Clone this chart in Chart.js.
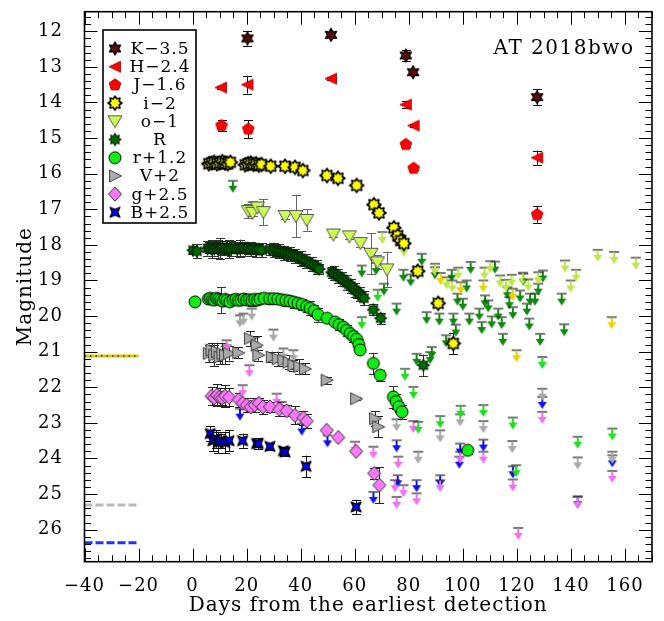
<!DOCTYPE html>
<html><head><meta charset="utf-8">
<script src="https://cdn.jsdelivr.net/npm/chart.js@4/dist/chart.umd.min.js"></script>
<style>html,body{margin:0;padding:0;background:#fff}</style>
</head><body>
<canvas id="c" width="664" height="621"></canvas>
<script>
// ---------------- DATA ----------------
const xTicks = [-40,-20,0,20,40,60,80,100,120,140,160];
const yTicks = [12,13,14,15,16,17,18,19,20,21,22,23,24,25,26];
const bandLabels = ['K\u22123.5','H\u22122.4','J\u22121.6','i\u22122','o\u22121','R','r+1.2','V+2','g+2.5','B+2.5'];

// K-3.5
const K_day = [20.3, 51.2, 78.9, 81.6, 127.5];
const K_mag = [12.2, 12.1, 12.68, 13.15, 13.85];
const K_err = [0.2, 0.05, 0.15, 0.05, 0.22];
// H-2.4
const H_day = [10.5, 20.3, 51.2, 78.9, 81.8, 127.5];
const H_mag = [13.58, 13.5, 13.33, 14.06, 14.65, 15.55];
const H_err = [0.05, 0.25, 0.05, 0.1, 0.05, 0.2];
// J-1.6
const J_day = [10.7, 20.6, 78.9, 81.8, 127.5];
const J_mag = [14.65, 14.75, 15.18, 15.85, 17.15];
const J_err = [0.15, 0.25, 0.08, 0.05, 0.23];
// i-2
const i_day = [6,7,8,9,10,11,12,13,14,19.5,20.5,21.5,22.5,23.5,24.5,25.5,28.9,34.2,37.9,40.8,49.7,53.8,60.7,67.1,69.0,74.5,75.9,77.0,78.2,83.3,90.9,96.5];
const i_mag = [15.72,15.70,15.68,15.72,15.70,15.66,15.70,15.72,15.68,15.75,15.72,15.70,15.74,15.72,15.76,15.74,15.79,15.79,15.82,15.91,16.05,16.13,16.33,16.87,17.1,17.52,17.74,17.88,17.96,18.74,19.64,20.77];
const i_err = [0.05,0.05,0.05,0.05,0.05,0.05,0.05,0.05,0.05,0.05,0.05,0.05,0.05,0.05,0.05,0.05,0.05,0.05,0.05,0.05,0.05,0.05,0.05,0.05,0.05,0.05,0.05,0.05,0.05,0.05,0.08,0.3];
const i_limDay = [91.8, 99.2, 107.6, 118.5, 119.9, 155.1];
const i_limMag = [18.79, 19.05, 19.0, 19.23, 20.96, 20.03];
// o-1
const o_day = [20.6,22.2,24.0,26.2,34.2,38.2,42.2,52.1,58.0,62.1,66.0,68.4,71.9];
const o_mag = [17.05,17.1,16.95,17.08,17.19,17.19,17.3,17.71,17.76,17.95,18.25,18.49,18.69];
const o_err = [0.2,0.1,0.1,0.37,0.08,0.6,0.3,0.08,0.08,0.1,0.58,0.2,0.5];
const o_limDay = [70.2,78.2,89.7,94.0,96.1,98.3,108.0,110.1,113.8,116.0,118.1,122.2,124.2,127.9,137.8,139.9,141.9,149.9,156.0,164.0];
const o_limMag = [17.64,17.99,18.53,18.91,19.0,18.64,18.64,18.46,18.86,18.98,18.84,18.78,18.97,18.77,18.44,19.0,18.7,18.14,18.2,18.36];
// R
const R_day = [0.15,1.6,5.5,6.2,7.0,7.8,8.6,9.4,10.2,11.0,11.8,12.6,13.4,14.2,15.5,16.5,17.5,18.5,19.5,20.5,21.5,22.5,23.5,24.5,25.5,
  28.6,30,31,32,33,34,35,36,37,38,39,40,41,42,43,44,45,46,46.8,
  51.5,52.2,53,53.8,54.6,55.4,56.2,57,57.8,58.6,59.4,60.2,61,61.8,62.6,63.4,
  66.9,69.6,85.4];
const R_mag = [18.15,18.18,18.10,18.08,18.12,18.10,18.08,18.12,18.10,18.08,18.11,18.09,18.12,18.10,18.08,18.12,18.10,18.09,18.11,18.10,18.12,18.10,18.14,18.12,18.15,
  18.13,18.14,18.16,18.18,18.2,18.22,18.24,18.26,18.29,18.32,18.35,18.38,18.42,18.46,18.5,18.54,18.59,18.63,18.68,
  18.77,18.8,18.84,18.88,18.92,18.96,19.01,19.06,19.11,19.16,19.21,19.27,19.33,19.38,19.44,19.5,
  19.82,20.06,21.38];
const R_err = [0.1,0.2,0.2,0.15,0.25,0.2,0.15,0.25,0.3,0.2,0.15,0.2,0.25,0.2,0.15,0.2,0.25,0.15,0.2,0.15,0.2,0.15,0.2,0.15,0.2,
  0.15,0.2,0.15,0.2,0.15,0.2,0.15,0.2,0.15,0.2,0.15,0.2,0.15,0.2,0.15,0.2,0.15,0.2,0.15,
  0.15,0.2,0.15,0.2,0.15,0.2,0.15,0.2,0.15,0.2,0.15,0.2,0.15,0.2,0.15,0.2,
  0.15,0.15,0.3];
const R_limDay = [14.9,22.2,62.6,67.9,70.8,75.5,78.0,80.7,82.9,84.8,86.6,87.9,88.5,89.7,91.3,93.8,95.9,96.5,97.4,98.0,100.0,101.4,102.4,102.9,106.1,107.0,108.2,109.4,110.7,111.9,113.1,114.4,114.8,116.5,117.2,118.5,121.2,122.4,123.7,124.6,124.9,126.7,127.9,128.6,129.6,136.6,137.5];
const R_limMag = [16.2,16.8,18.58,18.51,19.09,19.65,18.7,18.83,21.06,18.25,19.89,21.01,20.87,18.63,19.93,20.54,18.7,19.93,20.24,19.37,19.51,19.0,19.93,18.48,19.79,20.17,19.42,19.56,20.01,18.47,19.79,20.03,20.5,19.19,19.47,19.75,19.28,18.81,19.65,20.07,19.37,19.37,19.09,20.5,18.72,19.37,20.23];
// r+1.2
const r_day = [0.9,5.8,6.5,7.3,8.0,8.8,9.6,10.4,11.2,12.0,12.8,13.8,15,16,17,18,19,20,21,22,23,24,25,26.5,
  28.5,30,31.5,33,34.5,36,37.5,39,40.5,42.2,43.5,45,46.4,49.8,52.7,54.2,55.8,57,58.3,59.5,60.7,61.5,62,
  66.9,69.4,74.3,75.3,76.3,77.5,101.8];
const r_mag = [19.6,19.52,19.5,19.53,19.55,19.5,19.52,19.55,19.58,19.53,19.56,19.6,19.55,19.53,19.56,19.55,19.52,19.55,19.54,19.56,19.53,19.55,19.52,19.5,
  19.51,19.51,19.52,19.54,19.56,19.58,19.61,19.64,19.67,19.73,19.78,19.85,19.96,20.06,20.17,20.24,20.31,20.4,20.49,20.57,20.65,20.8,20.95,
  21.33,21.66,22.27,22.4,22.55,22.69,23.77];
const r_err = [0.05,0.1,0.1,0.1,0.1,0.1,0.1,0.37,0.1,0.1,0.1,0.1,0.15,0.1,0.1,0.15,0.1,0.1,0.1,0.15,0.1,0.1,0.1,0.1,
  0.15,0.1,0.15,0.1,0.15,0.1,0.15,0.1,0.15,0.15,0.2,0.15,0.2,0.1,0.1,0.15,0.1,0.15,0.1,0.15,0.1,0.15,0.1,
  0.3,0.15,0.3,0.2,0.15,0.2,0.1];
const r_limDay = [62.6,68.5,78.6,81.7,83.5,91.6,99.2,107.6,118.5,119.7,129.4,142.5,155.3];
const r_limMag = [20.03,19.26,21.48,21.99,22.97,22.81,22.52,22.5,22.85,24.19,21.15,23.39,23.16];
// V+2
const V_day = [6,7,8,9,10,11,12,13.5,16.9,21.2,23.7,24.3,29.3,31.5,33.6,35.5,37.3,39.5,41.6,49.6,60.5,67.5,68.7];
const V_mag = [21.05,20.95,21.1,21.0,21.15,21.05,21.1,21.05,21.03,20.63,20.82,21.1,21.15,21.2,21.24,21.3,21.38,21.42,21.48,21.8,22.32,22.88,23.11];
const V_err = [0.25,0.2,0.3,0.25,0.2,0.3,0.25,0.2,0.15,0.2,0.25,0.15,0.15,0.2,0.15,0.2,0.15,0.2,0.15,0.1,0.05,0.2,0.3];
const V_limDay = [17.5,18.8,21.9,23.1,23.7,29.9,33.6,37.3,75.5,83.5,91.6,99.0,107.6,118.3,129.4,142.5,155.3];
const V_limMag = [19.98,19.93,19.79,20.59,20.87,20.38,20.91,20.96,22.9,23.81,23.21,22.76,22.95,23.51,22.04,23.97,23.81];
// g+2.5
const g_day = [7,8,9,10,11,12,13.5,17,18.5,20,21.5,23,24.5,26,28.6,32.1,34.8,37.9,41.0,42.2,49.6,53.9,60.5,67.2,69.1];
const g_mag = [22.25,22.3,22.22,22.28,22.3,22.25,22.28,22.35,22.45,22.5,22.55,22.5,22.45,22.55,22.55,22.62,22.66,22.79,22.86,22.95,23.21,23.41,23.8,24.42,24.75];
const g_err = [0.25,0.2,0.3,0.25,0.2,0.3,0.25,0.2,0.15,0.2,0.15,0.2,0.15,0.2,0.15,0.2,0.15,0.25,0.2,0.2,0.05,0.05,0.05,0.15,0.5];
const g_limDay = [12.6,18.5,21.0,31.1,33.0,60.1,66.9,74.9,75.5,76.1,78.0,81.7,82.9,91.6,99.0,107.6,118.5,120.5,129.4,142.5,155.3];
const g_limMag = [20.68,21.94,21.38,22.18,22.41,23.53,23.67,24.61,25.08,23.95,24.75,22.95,24.98,24.61,23.81,23.81,24.59,25.95,22.69,25.08,24.35];
// B+2.5
const B_day = [6.5,7.5,8.5,9.5,10.5,12,13.5,18.5,23.7,24.3,28.6,33.6,34.2,42.0,60.5];
const B_mag = [23.3,23.5,23.45,23.55,23.5,23.55,23.5,23.5,23.58,23.58,23.66,23.78,23.82,24.22,25.36];
const B_err = [0.2,0.3,0.25,0.3,0.2,0.3,0.3,0.2,0.1,0.15,0.1,0.1,0.1,0.3,0.2];
const B_limDay = [12.6,17.5,40.4,49.9,66.9,75.5,75.9,82.9,91.6,98.7,99.0,107.6,118.5,129.4,142.5,155.3];
const B_limMag = [20.82,22.6,23.02,23.35,24.94,23.49,24.47,24.61,24.47,23.95,23.58,23.47,24.22,22.27,25.06,23.91];
// pre-discovery limits (-40 .. -20 d)
const pre_day = [-40, -20];
const pre_i = [21.12, 21.12];
const pre_V = [25.31, 25.31];
const pre_B = [26.37, 26.37];

// ---------------- STYLE ----------------
const FONT = "'DejaVu Serif', serif";
function mk(size, fn) {
  const c = document.createElement('canvas'); c.width = size; c.height = size;
  const g = c.getContext('2d'); g.translate(size/2, size/2); fn(g); return c;
}
function poly(g, pts, fill, stroke, lw) {
  g.beginPath(); pts.forEach((p,k)=> k ? g.lineTo(p[0],p[1]) : g.moveTo(p[0],p[1])); g.closePath();
  g.fillStyle = fill; g.fill(); if (stroke) { g.lineWidth = lw; g.strokeStyle = stroke; g.lineJoin='round'; g.stroke(); }
}
function starPts(n, ro, ri, rot) {
  const p = []; for (let k = 0; k < 2*n; k++) { const r = k%2 ? ri : ro; const a = rot + k*Math.PI/n; p.push([r*Math.sin(a), -r*Math.cos(a)]); } return p;
}
const M = {
  K: mk(16, g => poly(g, starPts(6, 6.5, 3.6, 0), '#5a0a0a', '#000', 1.3)),
  H: mk(16, g => poly(g, [[-6,0],[5.5,-5.5],[5.5,5.5]], '#ff0000', '#990000', 0.8)),
  J: mk(16, g => poly(g, starPts(5, 6.2, 6.2*Math.cos(Math.PI/5), 0).filter((_,k)=>k%2===0), '#ff0000', '#990000', 0.8)),
  i: mk(18, g => poly(g, starPts(8, 7, 4.6, 0), '#ffff00', '#000', 1.6)),
  o: mk(18, g => poly(g, [[-7,-5.5],[7,-5.5],[0,6.5]], '#ccff55', '#555', 1)),
  R: mk(16, g => poly(g, starPts(8, 6, 3.8, 0), '#006a00', '#002800', 1.2)),
  r: mk(16, g => { g.beginPath(); g.arc(0,0,6,0,2*Math.PI); g.fillStyle='#11ee11'; g.fill(); g.lineWidth=1; g.strokeStyle='#000'; g.stroke(); }),
  V: mk(16, g => poly(g, [[6.5,0],[-5.5,-6],[-5.5,6]], '#aaaaaa', '#444', 1)),
  g: mk(16, g => poly(g, [[0,-7],[6.5,0],[0,7],[-6.5,0]], '#ff77ff', '#333', 1)),
  B: mk(16, g => poly(g, starPts(4, 7, 2.8, Math.PI/4), '#0000ff', '#000', 1.3)),
};
function arrow(col) {
  const c = document.createElement('canvas'); c.width = 12; c.height = 30;
  const g = c.getContext('2d');
  g.strokeStyle = '#222'; g.lineWidth = 1.2; g.beginPath(); g.moveTo(1,15); g.lineTo(11,15); g.stroke();
  g.strokeStyle = col; g.lineWidth = 2; g.beginPath(); g.moveTo(6,15.5); g.lineTo(6,22); g.stroke();
  g.fillStyle = col; g.beginPath(); g.moveTo(1.5,20); g.lineTo(10.5,20); g.lineTo(6,27); g.closePath(); g.fill();
  return c;
}
const A = {
  i: arrow('#e8d400'), o: arrow('#bde84a'), R: arrow('#0f8a0f'), r: arrow('#22dd22'),
  V: arrow('#aaaaaa'), g: arrow('#f070f0'), B: arrow('#1010ee')
};

const pts = (d, m) => d.map((v, k) => ({x: v, y: m[k]}));
function det(label, d, m, e, style, errColor) {
  return {label, data: pts(d, m), errs: e, errColor: errColor || '#111', pointStyle: style, pointRadius: 5, showLine: false, order: 1};
}
function lim(label, d, m, style) {
  return {label, data: pts(d, m), pointStyle: style, pointRadius: 5, showLine: false, order: 2};
}
function preLine(label, m, col, dash, w, ord) {
  return {type: 'line', label, data: pts(pre_day, m), borderColor: col, borderWidth: w, borderDash: dash, pointRadius: 0, showLine: true, order: ord};
}

const datasets = [
  det('K-3.5', K_day, K_mag, K_err, M.K),
  det('H-2.4', H_day, H_mag, H_err, M.H),
  det('J-1.6', J_day, J_mag, J_err, M.J),
  det('i-2', i_day, i_mag, i_err, M.i),
  det('o-1', o_day, o_mag, o_err, M.o, '#666'),
  det('R', R_day, R_mag, R_err, M.R, '#333'),
  det('r+1.2', r_day, r_mag, r_err, M.r, '#333'),
  det('V+2', V_day, V_mag, V_err, M.V, '#222'),
  det('g+2.5', g_day, g_mag, g_err, M.g, '#222'),
  det('B+2.5', B_day, B_mag, B_err, M.B, '#111'),
  lim('i lim', i_limDay, i_limMag, A.i),
  lim('o lim', o_limDay, o_limMag, A.o),
  lim('R lim', R_limDay, R_limMag, A.R),
  lim('r lim', r_limDay, r_limMag, A.r),
  lim('V lim', V_limDay, V_limMag, A.V),
  lim('g lim', g_limDay, g_limMag, A.g),
  lim('B lim', B_limDay, B_limMag, A.B),
  preLine('i pre dots', pre_i, '#333', [1.5, 4], 1.5, 3),
  preLine('i pre', pre_i, '#d8c800', [], 3, 4),
  preLine('V pre', pre_V, '#bbbbbb', [8, 3], 3, 4),
  preLine('B pre', pre_B, '#2030ff', [8, 3], 3, 4),
];

const spacing = {
  id: 'spacing',
  beforeDraw(chart) { chart.ctx.letterSpacing = '1px'; },
  beforeDatasetsDraw(chart) { chart.ctx.letterSpacing = '0px'; }
};

const errorBars = {
  id: 'errorBars',
  beforeDatasetsDraw(chart) {
    const ctx = chart.ctx, ys = chart.scales.y;
    ctx.save();
    chart.data.datasets.forEach((ds, di) => {
      if (!ds.errs) return;
      const meta = chart.getDatasetMeta(di);
      ctx.strokeStyle = ds.errColor; ctx.lineWidth = 1;
      meta.data.forEach((p, k) => {
        const e = ds.errs[k]; if (!e) return;
        const y1 = ys.getPixelForValue(ds.data[k].y - e), y2 = ys.getPixelForValue(ds.data[k].y + e);
        const x = Math.round(p.x) + 0.5;
        ctx.beginPath();
        ctx.moveTo(x, y1); ctx.lineTo(x, y2);
        ctx.moveTo(x - 4.5, Math.round(y1)+0.5); ctx.lineTo(x + 4.5, Math.round(y1)+0.5);
        ctx.moveTo(x - 4.5, Math.round(y2)+0.5); ctx.lineTo(x + 4.5, Math.round(y2)+0.5);
        ctx.stroke();
      });
    });
    ctx.restore();
  }
};

const frame = {
  id: 'frame',
  afterDraw(chart) {
    const {ctx, chartArea: a, scales: {x, y}} = chart;
    ctx.save();
    ctx.strokeStyle = '#000';
    ctx.lineWidth = 1;
    ctx.beginPath();
    for (let k = Math.ceil(x.min / 5); k * 5 <= x.max; k++) {
      const px = Math.round(x.getPixelForValue(k * 5)) + 0.5;
      const L = (k % 4 === 0) ? 13 : 6.5;
      ctx.moveTo(px, a.bottom); ctx.lineTo(px, a.bottom - L);
      ctx.moveTo(px, a.top); ctx.lineTo(px, a.top + L);
    }
    for (let k = Math.ceil(y.min * 5); k <= Math.floor(y.max * 5); k++) {
      const py = Math.round(y.getPixelForValue(k / 5)) + 0.5;
      const L = (k % 5 === 0) ? 13 : 6.5;
      ctx.moveTo(a.left, py); ctx.lineTo(a.left + L, py);
      ctx.moveTo(a.right, py); ctx.lineTo(a.right - L, py);
    }
    ctx.stroke();
    ctx.lineWidth = 1.6;
    ctx.strokeRect(a.left, a.top, a.right - a.left, a.bottom - a.top);
    // legend box
    const lx = 103, ly = 30, lw = 93, lh = 193;
    ctx.fillStyle = '#fff'; ctx.fillRect(lx, ly, lw, lh);
    ctx.lineWidth = 1.6; ctx.strokeRect(lx, ly, lw, lh);
    const styles = [M.K, M.H, M.J, M.i, M.o, M.R, M.r, M.V, M.g, M.B];
    ctx.font = '17px ' + FONT; ctx.fillStyle = '#000'; ctx.textAlign = 'center'; ctx.textBaseline = 'middle';
    ctx.letterSpacing = '1px';
    bandLabels.forEach((t, k) => {
      const cy = 48.5 + k * 18.2;
      const s = styles[k];
      ctx.drawImage(s, 115 - s.width/2, cy - s.height/2);
      ctx.fillText(t, 160, cy + 1);
    });
    ctx.font = '20px ' + FONT; ctx.textAlign = 'center';
    ctx.letterSpacing = '1.5px';
    ctx.fillText('AT 2018bwo', 564, 49);
    ctx.letterSpacing = '0px';
    ctx.restore();
  }
};

const noPad = s => { s.paddingTop = 0; s.paddingBottom = 0; s.paddingLeft = 0; s.paddingRight = 0; };
const fmt = v => String(v).replace('-', '\u2212');
new Chart(document.getElementById('c'), {
  type: 'scatter',
  data: {datasets},
  options: {
    responsive: false, animation: false, devicePixelRatio: 1,
    layout: {padding: {top: 11.7, right: 12, left: 0, bottom: 0}},
    plugins: {legend: {display: false}, tooltip: {enabled: false}},
    scales: {
      x: {type: 'linear', min: -40, max: 170, position: 'bottom',
        grid: {display: false}, border: {display: false},
        afterBuildTicks: s => { s.ticks = xTicks.map(v => ({value: v})); },
        afterFit: s => { s.height = 59.3; noPad(s); },
        ticks: {color: '#000', font: {family: FONT, size: 18}, padding: 6, maxRotation: 0, autoSkip: false, callback: v => fmt(v)},
        title: {display: true, text: 'Days from the earliest detection', color: '#000', font: {family: FONT, size: 20}, padding: {top: 0, bottom: 3}}
      },
      y: {type: 'linear', min: 11.45, max: 26.9, reverse: true, position: 'left',
        grid: {display: false}, border: {display: false},
        afterBuildTicks: s => { s.ticks = yTicks.map(v => ({value: v})); },
        afterFit: s => { s.width = 84.5; noPad(s); },
        ticks: {color: '#000', font: {family: FONT, size: 18}, padding: 13.5, autoSkip: false, callback: v => fmt(v)},
        title: {display: true, text: 'Magnitude', color: '#000', font: {family: FONT, size: 20}, padding: {top: 14, bottom: 0}}
      }
    }
  },
  plugins: [spacing, errorBars, frame]
});
</script>
</body></html>
